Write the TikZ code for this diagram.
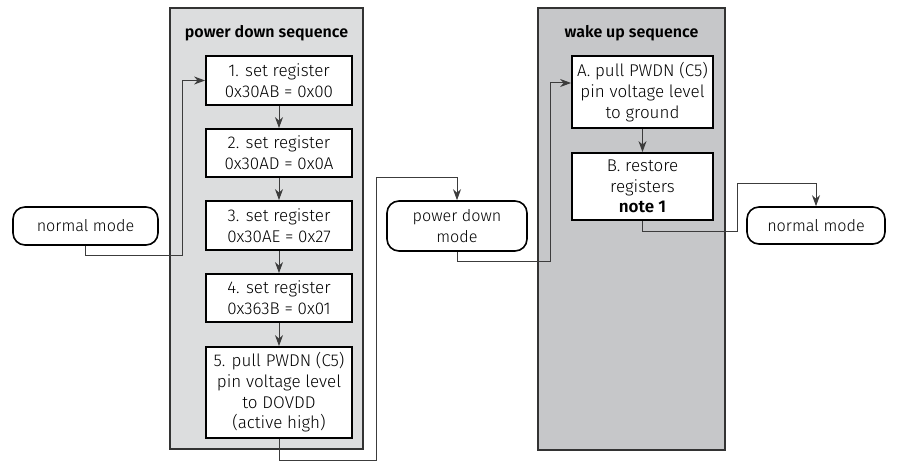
\documentclass[tikz,border=0pt]{standalone}
\usepackage{fontspec}
\setmainfont{Fira Sans}[UprightFont={* Light}, BoldFont={* SemiBold}]
\usetikzlibrary{arrows.meta}
\definecolor{panelA}{HTML}{DCDDDE}
\definecolor{panelB}{HTML}{C6C7C9}
\definecolor{edge}{HTML}{333333}
\definecolor{conn}{HTML}{3C3C3C}
\tikzset{
  panel/.style={draw=edge, line width=1.8pt, rectangle, inner sep=0pt},
  title/.style={font=\fontsize{16}{19}\selectfont\bfseries, inner sep=0pt},
  stepbox/.style={draw=black, line width=1.8pt, fill=white, rectangle, inner sep=0pt,
    align=center, font=\fontsize{17}{20.7}\selectfont},
  modebox/.style={draw=black, line width=1.6pt, fill=white, rectangle, rounded corners=12pt,
    inner sep=0pt, align=center, font=\fontsize{16.2}{20.5}\selectfont},
  link/.style={draw=conn, line width=1pt, -{Stealth[length=11pt,width=8pt,inset=3.5pt]}}
}
\begin{document}
\begin{tikzpicture}[x=1pt,y=-1pt]
\useasboundingbox (0,0) rectangle (913,462);
% panels
\node[panel, fill=panelA, minimum width=193pt, minimum height=441pt] (pdpanel) at (266.5,228.5) {};
\node[title] (pdtitle) at (266.5,33) {power down sequence};
\node[panel, fill=panelB, minimum width=187pt, minimum height=442pt] (wupanel) at (631.5,229) {};
\node[title] (wutitle) at (631.5,33) {wake up sequence};
% steps
\node[stepbox, minimum width=146pt, minimum height=49pt] (b1) at (279,80.5) {1. set register\\0x30AB = 0x00};
\node[stepbox, minimum width=146pt, minimum height=48pt] (b2) at (279,153) {2. set register\\0x30AD = 0x0A};
\node[stepbox, minimum width=146pt, minimum height=49pt] (b3) at (279,225.5) {3. set register\\0x30AE = 0x27};
\node[stepbox, minimum width=146pt, minimum height=48pt] (b4) at (279,298) {4. set register\\0x363B = 0x01};
\node[stepbox, minimum width=146pt, minimum height=91pt] (b5) at (279,392.5) {5. pull PWDN (C5)\\pin voltage level\\to DOVDD\\(active high)};
\node[stepbox, minimum width=141pt, minimum height=72pt] (bA) at (642.5,92) {A. pull PWDN (C5)\\pin voltage level\\to ground};
\node[stepbox, minimum width=141pt, minimum height=67pt] (bB) at (642.5,186.5) {B. restore\\registers\\\textbf{note 1}};
% modes
\node[modebox, minimum width=145pt, minimum height=38pt] (nm1) at (85.5,226) {normal mode};
\node[modebox, minimum width=140pt, minimum height=50pt] (pd) at (457,226) {power down\\mode};
\node[modebox, minimum width=138pt, minimum height=37pt] (nm2) at (816,225.5) {normal mode};
% connectors
\coordinate (c1) at (182,256);
\coordinate (c2) at (376,460);
\coordinate (c3) at (376,178);
\coordinate (c4) at (550,262);
\coordinate (c5) at (550,83);
\coordinate (c6) at (737,232);
\coordinate (c7) at (737,184);
\draw[link] (nm1.south) |- (c1) |- (b1.west);
\draw[link] (b1.south) -- (b2.north);
\draw[link] (b2.south) -- (b3.north);
\draw[link] (b3.south) -- (b4.north);
\draw[link] (b4.south) -- (b5.north);
\draw[link] (b5.south) |- (c2) -- (c3) -| (pd.north);
\draw[link] (pd.south) |- (c4) -- (c5) -- (c5 -| bA.west);
\draw[link] (bA.south) -- (bB.north);
\draw[link] (bB.south) |- (c6) -- (c7) -| (nm2.north);
\end{tikzpicture}
\end{document}
